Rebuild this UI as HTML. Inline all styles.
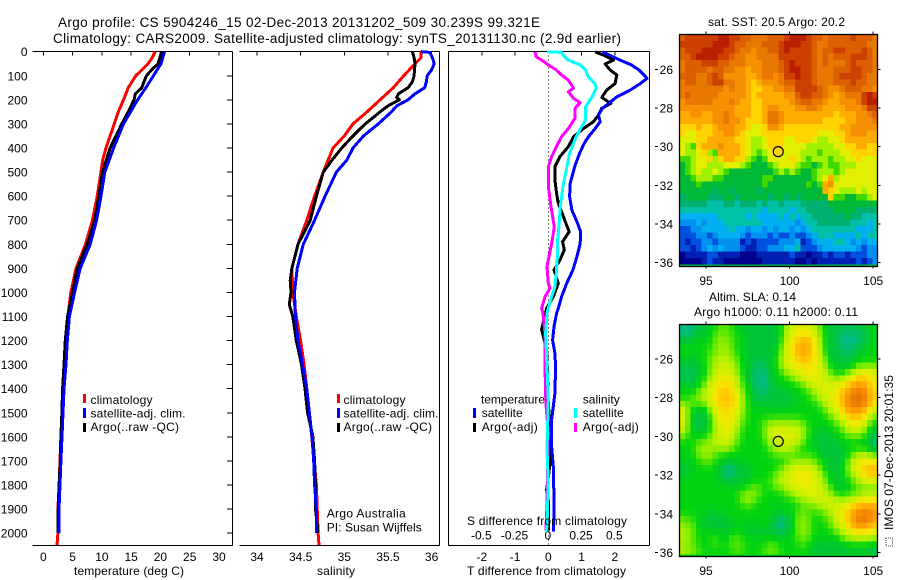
<!DOCTYPE html>
<html>
<head>
<meta charset="utf-8">
<title>Argo profile</title>
<style>
html,body{margin:0;padding:0;background:#fff;}
svg{display:block;}
text{font-family:"Liberation Sans",sans-serif;font-size:12px;fill:#000;}
.t{font-size:13.5px;}
</style>
</head>
<body>
<svg id="fig" xmlns="http://www.w3.org/2000/svg" width="900" height="580" viewBox="0 0 900 580">
  <text class="t" x="58" y="27" textLength="482">Argo profile: CS 5904246_15 02-Dec-2013 20131202_509 30.239S 99.321E</text>
  <text class="t" x="53" y="43" textLength="568">Climatology: CARS2009. Satellite-adjusted climatology: synTS_20131130.nc (2.9d earlier)</text>

  <g id="maps"></g>
  <g id="axes"></g>
  <g id="series"></g>

  <text x="74" y="575" textLength="110">temperature (deg C)</text>
  <text x="317" y="575" textLength="38">salinity</text>
  <text x="467" y="575" textLength="159">T difference from climatology</text>
  <text x="467" y="525" textLength="160">S difference from climatology</text>

  <g>
    <rect x="83" y="394" width="3" height="9" fill="#f00"/>
    <text x="90.5" y="404" textLength="62">climatology</text>
    <rect x="83" y="408" width="3" height="10" fill="#00f"/>
    <text x="90.5" y="417.5" textLength="95">satellite-adj. clim.</text>
    <rect x="83" y="423" width="3" height="9" fill="#000"/>
    <text x="90.5" y="431" textLength="88.5">Argo(..raw -QC)</text>
  </g>
  <g>
    <rect x="337" y="394" width="3" height="9" fill="#f00"/>
    <text x="343.5" y="404" textLength="62">climatology</text>
    <rect x="337" y="408" width="3" height="10" fill="#00f"/>
    <text x="343.5" y="417.5" textLength="95">satellite-adj. clim.</text>
    <rect x="337" y="423" width="3" height="9" fill="#000"/>
    <text x="343.5" y="431" textLength="88.5">Argo(..raw -QC)</text>
  </g>
  <text x="326.7" y="517.5" textLength="79">Argo Australia</text>
  <text x="326.7" y="531.5" textLength="95">PI: Susan Wijffels</text>

  <g>
    <text x="481" y="403.5" textLength="64">temperature</text>
    <text x="582.7" y="403.5" textLength="37">salinity</text>
    <rect x="473" y="408" width="3" height="10" fill="#00f"/>
    <text x="481.7" y="417" textLength="41">satellite</text>
    <rect x="473" y="423" width="3" height="9" fill="#000"/>
    <text x="481.7" y="431" textLength="56">Argo(-adj)</text>
    <rect x="574" y="408" width="3" height="10" fill="#00ffff"/>
    <text x="582.7" y="417" textLength="41">satellite</text>
    <rect x="574" y="423" width="3" height="9" fill="#ff00ff"/>
    <text x="582.7" y="431" textLength="56">Argo(-adj)</text>
  </g>

  <text x="708" y="26" textLength="137">sat. SST: 20.5 Argo: 20.2</text>
  <text x="709" y="301" textLength="87">Altim. SLA: 0.14</text>
  <text x="694" y="316" textLength="164">Argo h1000: 0.11 h2000: 0.11</text>

  <text transform="translate(893,530) rotate(-90)" x="0" y="0" textLength="155">IMOS 07-Dec-2013 20:01:35</text>
  <rect x="886" y="538" width="6.5" height="8" fill="none" stroke="#444" stroke-width="1" stroke-dasharray="1 1"/>
</svg>

<script>
// ---------- tick labels ----------
const depthTicks = [0,100,200,300,400,500,600,700,800,900,1000,1100,1200,1300,1400,1500,1600,1700,1800,1900,2000];
const tempTicks = [0,5,10,15,20,25,30];
const salTicks = ["34","34.5","35","35.5","36"];
const tDiffTicks = ["-2","-1","0","1","2"];
const sDiffTicks = ["-0.5","-0.25","0","0.25","0.5"];
const lonTicks = [95,100,105];
const latTicks = [26,28,30,32,34,36];

// ---------- temperature profiles (deg C) ----------
const tempClimDepth = [0,25,50,76,100,130,150,200,250,300,350,400,450,500,600,700,800,900,1000,1100,1200,1300,1400,1500,1600,1700,1800,1900,2000,2050];
const tempClimValue = [19.1,18.6,17.9,16.8,15.8,15.0,14.5,13.7,12.8,12.1,11.4,10.7,10.15,9.85,9.2,8.4,7.2,5.6,4.7,4.2,3.8,3.55,3.35,3.2,3.0,2.85,2.7,2.5,2.5,2.34];
const tempSatDepth = [0,50,100,150,200,300,400,500,600,700,800,900,1000,1100,1200,1300,1400,1500,1600,1700,1800,1900,2000];
const tempSatValue = [20.7,20.1,18.8,17.5,16.1,13.7,12,10.5,9.85,9.1,8,6.3,5.35,4.45,4.1,3.88,3.53,3.36,3.2,3.0,2.85,2.68,2.7];
const tempArgoDepth = [0,50,75,100,150,175,200,250,300,400,500,600,700,800,900,1000,1100,1200,1300,1400,1500,1600,1700,1800,1900,2000];
const tempArgoValue = [20.2,19.6,18.5,17.6,16.8,15.7,15.5,14.5,13.4,11.4,10.1,9.5,8.8,7.5,5.8,5.0,4.15,3.76,3.53,3.3,3.18,3.0,2.9,2.7,2.55,2.5];

// ---------- salinity profiles ----------
const salClimDepth = [0,25,50,100,150,200,250,300,350,400,500,600,700,800,900,1000,1100,1200,1300,1500,1800,1900,2000,2050];
const salClimValue = [35.88,35.88,35.81,35.68,35.56,35.41,35.26,35.1,35.0,34.87,34.76,34.66,34.57,34.47,34.40,34.41,34.45,34.5,34.54,34.6,34.68,34.69,34.7,34.71];
const salSatDepth = [0,3,10,25,50,75,100,125,150,175,200,225,250,300,350,400,450,500,600,700,800,900,1000,1100,1200,1300,1400,1500,1600,1700,1800,1900,2000];
const salSatValue = [35.88,35.98,35.99,36.01,36.03,36.0,35.95,35.94,35.92,35.81,35.73,35.6,35.54,35.39,35.22,35.1,35.03,34.91,34.78,34.66,34.53,34.46,34.43,34.44,34.47,34.52,34.57,34.6,34.63,34.65,34.66,34.68,34.68];
const salArgoDepth = [0,25,50,100,125,150,175,190,200,225,250,300,350,400,450,500,600,700,800,900,950,1000,1050,1100,1200,1300,1400,1500,1600,1700,1800,1900,2000];
const salArgoValue = [35.78,35.8,35.81,35.8,35.78,35.73,35.62,35.6,35.63,35.5,35.41,35.24,35.1,34.97,34.86,34.76,34.68,34.61,34.47,34.40,34.38,34.39,34.37,34.41,34.45,34.51,34.55,34.58,34.64,34.66,34.67,34.67,34.7];

// ---------- difference profiles ----------
const dTSatDepth = [1,35,55,76,97,111,132,159,187,215,235,263,291,319,353,381,422,471,505,547,602,658,706,748,796,852,907,963,1018,1066,1087,1142,1198,1253,1308,1419,1474,1530,1640,1723,1862,1994];
const dTSatValue = [1.63,2.16,2.5,2.73,2.88,2.97,2.77,2.47,2.07,1.81,1.63,1.51,1.56,1.41,1.21,1.08,0.94,0.81,0.74,0.66,0.64,0.71,0.86,0.97,0.96,0.86,0.74,0.55,0.40,0.30,0.25,0.17,0.13,0.20,0.22,0.20,0.15,0.10,0.10,0.15,0.17,0.16];
const dTArgoDepth = [1,14,35,51,76,97,132,159,190,215,235,263,291,319,353,395,436,478,533,589,630,672,713,748,789,824,866,907,963,1018,1066,1154,1239,1308,1447,1585,1696,1820,1860,1990];
const dTArgoValue = [1.41,1.66,1.96,1.71,1.86,2.06,2.01,1.76,1.61,1.88,1.61,1.51,1.36,1.06,0.76,0.6,0.35,0.2,0.2,0.25,0.3,0.42,0.53,0.63,0.43,0.48,0.35,0.17,0.3,0.15,-0.05,-0.2,-0.05,-0.03,0,0.05,0.07,-0.05,0,0];
const dSSatDepth = [1,3,14,35,55,76,104,132,152,187,229,284,312,353,422,505,561,644,727,782,838,921,976,1018,1066,1087,1170,1308,1447,1654,1792,1972,1994];
const dSSatValue = [-0.01,0.10,0.11,0.15,0.24,0.28,0.30,0.35,0.36,0.33,0.28,0.28,0.25,0.21,0.16,0.13,0.11,0.09,0.08,0.07,0.07,0.06,0.05,0.025,0,-0.01,-0.02,-0.01,0,-0.01,0,-0.01,-0.018];
const dSArgoDepth = [1,21,35,55,76,97,118,152,166,194,212,235,277,319,353,395,436,478,561,644,727,782,838,893,963,983,1018,1066,1087,1170,1308,1460,1585,1723,1860,1915,1990];
const dSArgoValue = [-0.10,-0.09,-0.05,0,0.06,0.10,0.15,0.19,0.15,0.19,0.24,0.20,0.20,0.15,0.10,0.06,0.025,0,0,0.02,0.045,0.03,0.01,-0.01,0,0.0125,-0.025,-0.05,-0.04,-0.025,-0.025,-0.018,0,-0.005,-0.008,-0.012,-0.018];

// ---------- SST map: colour level for each cell, row = latitude, column = longitude ----------
const sstGrid = [
[15,16,16,16,16,16,16,17,17,16,16,15,15,14,14,14,15,15,15,16,17,17,17,16,15,15,14,15,15,15,15,16,15,15,15,14],
[16,16,16,16,16,16,17,17,17,16,15,15,14,14,14,15,15,15,16,17,17,17,16,16,15,14,14,15,15,15,15,15,15,15,14,14],
[15,16,16,16,17,17,17,17,16,16,15,14,14,13,14,14,15,15,16,17,16,16,16,16,15,14,15,15,16,16,15,15,15,16,15,14],
[15,15,16,17,17,17,17,16,16,15,14,14,13,13,14,14,14,14,16,16,16,16,16,16,15,14,15,14,15,15,15,16,16,16,15,14],
[14,15,15,15,16,16,16,15,15,14,14,14,13,13,13,14,14,14,15,16,17,16,16,16,15,14,15,14,14,14,15,16,15,15,15,14],
[14,15,15,15,15,14,15,15,14,14,13,13,12,13,13,14,14,14,15,16,17,17,16,16,15,14,14,14,15,15,15,16,16,15,15,14],
[15,15,15,14,14,15,16,15,13,13,13,13,12,12,13,14,14,13,14,16,16,17,16,16,15,14,14,14,15,16,16,16,16,15,14,14],
[14,15,15,14,14,15,16,16,14,14,13,13,12,11,12,13,13,13,14,15,15,16,16,16,15,14,14,14,15,15,15,16,15,15,14,14],
[14,14,14,14,14,14,14,14,13,14,13,13,12,11,11,12,12,13,13,14,14,16,16,16,16,15,14,13,13,14,15,15,15,14,14,13],
[14,15,14,14,14,14,14,13,13,13,13,13,12,11,12,12,12,12,12,13,13,15,16,16,15,15,14,13,12,13,14,14,14,16,17,16],
[13,14,14,14,14,14,13,13,13,14,13,12,12,11,11,12,12,12,12,12,13,14,15,15,14,14,13,12,12,13,13,13,14,16,17,17],
[13,13,13,13,13,13,13,13,13,13,12,12,12,11,11,12,13,13,12,12,12,13,13,14,14,13,12,12,12,12,13,13,13,14,16,16],
[12,12,13,13,12,12,13,13,14,13,12,12,12,11,11,12,14,14,13,12,12,12,12,12,12,12,12,12,11,12,12,12,13,13,14,15],
[12,12,12,12,12,12,13,13,14,13,13,12,11,11,11,12,14,14,13,12,12,12,12,12,12,12,11,11,11,11,12,12,13,13,13,14],
[11,11,11,12,11,11,12,13,13,13,12,12,11,10,10,11,13,13,12,11,11,11,11,11,11,11,11,11,11,12,12,13,13,13,13,13],
[11,10,10,11,11,11,12,12,13,13,12,11,10,10,10,11,11,11,11,11,11,11,11,11,11,10,10,10,11,11,12,13,13,13,12,12],
[10,10,10,11,11,12,12,12,12,12,11,11,10,9,9,10,11,11,11,10,10,11,11,11,10,9,9,10,10,11,12,12,12,12,12,12],
[10,9,8,11,12,12,12,13,12,12,12,11,10,9,9,10,11,11,11,10,10,10,10,9,9,9,9,9,10,10,11,11,12,12,11,11],
[10,9,9,10,11,9,8,12,12,12,12,11,10,9,8,9,10,11,11,10,10,10,9,9,9,8,9,9,9,10,10,11,11,11,11,11],
[8,8,9,10,10,11,9,11,12,12,11,11,9,8,7,8,10,10,10,10,11,10,9,8,9,9,9,8,9,9,10,10,11,10,10,10],
[7,8,9,10,10,9,9,9,10,10,10,9,8,7,7,7,8,9,10,10,10,9,8,8,7,8,9,8,8,9,9,9,10,10,10,10],
[7,8,9,10,9,9,10,9,8,7,7,7,7,7,7,7,7,8,9,8,9,8,7,7,8,9,9,9,8,9,10,10,10,10,10,10],
[7,7,8,9,9,9,8,8,7,7,7,7,7,7,7,8,8,7,7,7,7,7,7,7,8,9,10,12,9,10,10,10,10,10,10,10],
[7,7,7,8,7,7,7,7,7,7,7,7,7,7,7,8,7,7,7,7,7,7,7,8,7,8,12,13,10,10,10,10,10,10,10,10],
[7,7,7,7,7,7,6,7,7,6,7,7,7,7,6,7,7,7,7,7,7,7,7,7,7,7,12,11,10,9,9,9,10,9,10,10],
[6,7,7,7,7,6,6,6,7,7,6,7,7,7,7,7,6,7,7,6,7,6,7,7,7,7,7,11,8,8,7,7,8,8,9,10],
[6,6,6,6,6,5,5,5,6,6,5,6,6,6,5,6,5,5,6,5,5,5,6,6,6,6,6,7,7,7,7,7,7,7,7,7],
[5,5,5,5,5,5,5,5,5,5,5,5,5,5,5,4,5,5,5,5,4,5,5,6,6,6,6,6,7,7,7,7,6,6,6,6],
[4,4,4,4,4,4,4,5,5,5,5,5,4,5,4,4,4,4,5,4,5,4,5,5,6,6,6,6,6,6,7,6,6,5,5,5],
[3,3,3,4,3,4,4,4,5,5,5,5,5,5,5,4,4,4,4,4,4,3,4,5,5,6,6,6,6,6,6,5,5,5,4,5],
[2,2,3,3,4,4,4,4,4,5,4,4,3,4,4,3,4,3,4,4,3,4,3,4,5,5,5,5,5,5,5,5,4,4,4,5],
[2,2,2,3,3,2,3,4,4,4,4,3,2,3,3,3,2,3,2,2,3,2,2,3,4,5,5,5,4,4,4,4,5,4,5,5],
[2,1,2,2,3,3,2,3,3,3,3,1,2,1,2,2,2,2,3,3,3,4,1,2,3,4,4,4,5,5,4,3,4,3,4,4],
[2,2,1,2,3,4,3,4,3,3,3,2,1,1,2,2,3,3,3,4,4,5,2,2,2,3,4,4,4,4,4,4,3,2,3,3],
[0,1,1,1,1,2,2,1,1,1,1,0,0,0,1,1,1,1,1,1,2,1,1,0,1,1,2,1,2,2,1,2,2,2,3,3],
[0,0,0,0,1,2,1,1,0,0,0,0,0,0,0,1,1,1,1,1,1,0,0,1,0,1,1,1,1,1,1,1,2,1,2,3]
];

// ---------- SLA map: colour level for each cell ----------
const slaGrid = [
[5,5,5,6,6,6,7,8,8,7,7,6,6,6,6,6,6,6,7,9,10,10,10,10,9,8,6,6,6,6,6,6,6,6,7,7],
[5,5,6,6,6,7,8,8,8,8,7,7,6,6,6,6,6,6,7,9,10,11,11,11,10,9,7,6,6,5,5,5,5,6,6,7],
[6,6,6,7,7,7,8,9,8,8,7,7,6,6,6,6,6,6,7,10,11,12,13,13,11,9,7,6,6,5,5,5,5,6,6,7],
[7,7,7,7,7,7,8,9,9,8,7,7,6,6,6,6,6,6,8,10,11,13,13,13,11,9,7,6,6,5,5,5,6,6,7,7],
[7,7,7,7,7,8,8,9,9,8,7,7,6,6,6,6,6,7,8,10,11,13,13,13,11,10,7,6,6,6,5,6,6,7,7,7],
[7,6,6,7,7,8,9,9,9,9,8,7,6,6,6,6,6,7,9,10,11,12,13,12,11,10,8,6,6,6,6,6,7,7,7,7],
[6,6,6,6,7,8,9,10,10,9,8,7,6,6,5,6,6,7,9,10,10,11,11,11,11,10,9,7,6,6,6,7,8,8,8,8],
[6,5,6,6,7,8,9,10,10,10,9,7,6,6,5,5,6,7,7,9,10,10,11,11,11,10,9,8,7,7,8,9,10,11,11,10],
[6,5,6,6,7,9,10,11,11,10,9,7,6,5,5,5,6,7,7,7,8,9,10,10,11,10,10,9,8,9,10,11,12,12,11,10],
[7,6,6,7,8,10,10,11,12,11,10,8,6,6,5,5,6,6,7,7,7,7,8,9,10,10,10,10,10,11,12,13,14,13,12,11],
[7,7,7,8,9,10,11,12,12,11,10,8,7,6,5,5,6,6,6,6,7,7,7,8,9,10,10,10,11,12,13,14,15,14,13,11],
[7,7,8,9,9,10,11,12,13,12,11,9,7,6,6,6,6,6,6,6,6,7,7,7,8,9,10,10,11,13,14,15,16,15,13,11],
[9,8,8,8,8,10,11,12,12,12,10,9,7,6,6,6,6,6,6,6,6,7,7,7,7,8,9,10,11,12,14,15,15,14,13,11],
[11,8,7,6,6,8,10,11,12,11,10,9,7,7,7,7,7,7,7,7,7,7,7,7,7,7,8,9,10,12,13,14,14,13,11,9],
[11,8,6,6,6,7,10,11,11,11,10,8,7,7,7,7,7,7,7,7,7,7,7,7,7,7,7,8,9,10,12,12,12,11,9,8],
[11,8,6,5,6,7,9,10,11,11,9,8,7,7,7,8,9,9,9,9,9,9,8,7,7,7,7,7,8,9,10,11,11,10,8,7],
[10,8,7,6,6,7,9,10,11,10,9,7,7,7,7,8,10,10,10,10,10,10,9,7,7,6,6,7,7,8,9,10,10,9,7,6],
[9,7,7,7,7,8,9,10,10,10,8,7,7,7,7,8,10,10,10,10,10,10,9,7,7,6,6,6,7,7,8,8,8,7,6,5],
[7,7,7,8,8,9,9,10,10,9,8,7,7,7,7,7,9,10,10,10,10,9,8,7,6,6,6,6,6,7,7,7,7,7,6,5],
[7,7,7,9,9,9,8,9,9,8,7,7,7,7,7,7,8,9,9,9,9,8,7,7,7,6,6,6,6,6,7,7,7,7,6,5],
[7,7,7,8,9,9,8,7,7,7,7,7,7,7,7,7,7,8,8,8,8,7,7,8,7,7,6,6,6,6,7,8,9,10,9,8],
[7,6,7,7,8,8,7,7,6,6,6,7,7,7,7,7,7,7,7,7,9,9,9,9,8,7,7,6,6,6,8,10,11,11,11,11],
[6,6,7,7,7,7,7,6,5,5,6,6,6,7,7,7,7,7,8,9,10,10,10,10,10,8,7,6,6,7,8,10,11,12,13,12],
[6,6,7,7,7,7,7,6,5,5,6,6,6,7,7,7,7,8,9,10,10,11,11,11,10,9,8,6,6,7,8,9,10,11,13,12],
[7,7,7,7,7,7,7,6,6,6,6,6,7,7,7,7,8,9,9,10,10,11,11,11,10,10,8,7,6,6,7,8,9,10,10,10],
[7,7,7,7,7,7,7,7,7,7,7,7,7,8,8,7,7,8,9,9,10,10,10,11,10,10,9,8,6,6,7,7,8,8,8,8],
[7,7,7,7,7,7,7,7,7,7,7,8,9,9,8,7,7,7,7,8,9,10,10,10,10,10,9,9,7,7,7,8,8,9,9,9],
[7,7,7,7,7,7,7,7,7,7,7,9,9,8,7,7,7,7,7,7,7,8,9,9,10,10,10,10,9,9,9,10,10,11,11,11],
[7,7,7,7,7,7,7,7,7,7,7,7,8,7,7,7,7,7,7,7,7,7,8,8,8,9,9,10,10,10,11,12,13,13,13,13],
[7,7,7,7,7,6,6,7,7,7,7,7,7,7,7,7,7,6,6,7,7,8,8,8,7,8,8,9,10,11,12,13,14,15,15,13],
[8,8,7,7,6,6,6,6,6,7,7,7,7,7,7,7,7,6,5,5,7,8,9,8,7,7,8,8,10,11,12,14,15,15,14,13],
[9,8,8,7,6,6,6,6,6,6,7,7,6,6,7,7,6,5,5,5,7,8,9,8,7,7,7,8,9,10,11,13,14,14,13,12],
[9,9,8,7,7,7,7,6,6,7,7,7,6,6,6,6,6,6,5,6,7,8,9,8,7,7,7,7,8,9,10,11,11,11,11,10],
[9,9,8,7,7,7,8,7,7,8,8,7,7,7,7,7,7,7,6,7,7,8,8,8,7,7,7,7,7,8,9,9,9,9,9,9],
[9,8,8,7,7,7,8,7,7,8,8,8,7,7,7,7,8,8,7,7,7,7,8,7,6,6,6,6,6,6,7,7,7,7,7,6],
[9,9,8,8,7,7,7,7,7,7,8,7,7,7,7,8,8,8,7,7,7,7,7,7,6,6,6,6,6,6,6,6,6,6,6,5]
];

// ---------- colour scales (level -> colour) ----------
const sstColors = ["#00008c","#0020b4","#0050e0","#0090f0","#00b0f0","#00c0a8","#00b070","#00b838","#40d800","#a0f000","#e0f000","#ffd400","#ffac00","#f69000","#e87800","#dc6000","#cc4000","#b82000"];
const slaColors = ["#00008c","#0020b4","#0050e0","#0090f0","#00b0f0","#00bc88","#00c438","#00d410","#60e800","#b0f000","#d8f000","#f4e800","#ffc800","#ffa800","#f68c00","#e87400","#d86000","#c04000"];

// ---------- axis functions ----------
const NS = "http://www.w3.org/2000/svg";
const yDepth = d => 51.7 + d * 0.2407;
const xTemp = v => 43.3 + v * 5.857;
const xSal = v => 257 + (v - 34) * 87.3;
const xDiffT = v => 548.3 + v * 33.25;
const xDiffS = v => 548.3 + v * 133;
const xLon = v => 706 + (v - 95) * 16.72;
const yLat1 = v => 69.4 + (v - 26) * 19.33;
const yLat2 = v => 359 + (v - 26) * 19.37;
const GRID_LON0 = 93.4, GRID_LAT0 = 24.2, GRID_STEP = 0.33;

const seriesG = document.getElementById("series");
const axesG = document.getElementById("axes");
const mapsG = document.getElementById("maps");

function mk(parent, tag, attrs, txt) {
  const e = document.createElementNS(NS, tag);
  for (const k in attrs) e.setAttribute(k, attrs[k]);
  if (txt !== undefined) e.textContent = txt;
  parent.appendChild(e);
  return e;
}

function rgb(hex) {
  return [parseInt(hex.slice(1, 3), 16), parseInt(hex.slice(3, 5), 16), parseInt(hex.slice(5, 7), 16)];
}
function colorAt(palette, v) {
  const c = Math.max(0, Math.min(palette.length - 1, v));
  const i = Math.min(palette.length - 2, Math.floor(c));
  const f = c - i;
  const a = rgb(palette[i]), b = rgb(palette[i + 1]);
  return "rgb(" + a.map((x, k) => Math.round(x + (b[k] - x) * f)).join(",") + ")";
}
// gaussian-like average of a cell and its neighbours (SLA field is smooth)
function smoothAt(grid, r, c) {
  let sum = 0, w = 0;
  for (let dr = -1; dr <= 1; dr++) {
    for (let dc = -1; dc <= 1; dc++) {
      const row = grid[r + dr];
      if (!row || row[c + dc] === undefined) continue;
      const k = (dr === 0 ? 2 : 1) * (dc === 0 ? 2 : 1);
      sum += row[c + dc] * k;
      w += k;
    }
  }
  return sum / w;
}

function profile(name, depths, values, xFn, color, width) {
  const pts = depths.map((d, i) => xFn(values[i]).toFixed(1) + "," + yDepth(d).toFixed(1)).join(" ");
  const el = mk(seriesG, "polyline", {points: pts, fill: "none", stroke: color, "stroke-width": width, "stroke-linejoin": "round", "shape-rendering": "crispEdges"});
  
  
}

function seg(x1, y1, x2, y2, extra) {
  const el = mk(axesG, "line", Object.assign({x1, y1, x2, y2, stroke: "#000", "stroke-width": 1, "shape-rendering": "crispEdges"}, extra || {}));
  
  
}

function label(x, y, s, anchor) {
  const el = mk(axesG, "text", {x, y, "text-anchor": anchor || "middle"}, s);
  
  
}

// ---------- heat maps ----------
function heat(name, grid, yFn, x0, y0, x1, y1, palette, valueFn) {
  const g = mk(mapsG, "g", {});
  
  
  mk(g, "rect", {x: x0, y: y0, width: x1 - x0, height: y1 - y0, fill: palette[7]});
  grid.forEach((row, r) => row.forEach((v, c) => {
    const cx = xLon(GRID_LON0 + c * GRID_STEP);
    const cy = yFn(GRID_LAT0 + r * GRID_STEP);
    const cw = Math.min(xLon(GRID_LON0 + (c + 1) * GRID_STEP), x1) - cx;
    const ch = Math.min(yFn(GRID_LAT0 + (r + 1) * GRID_STEP), y1) - cy;
    const cell = mk(g, "rect", {x: cx.toFixed(2), y: cy.toFixed(2), width: (cw + 0.4).toFixed(2), height: (ch + 0.4).toFixed(2), fill: colorAt(palette, valueFn(grid, r, c)), "shape-rendering": "crispEdges"});
    
    
  }));
}

const map1Box = [679.5, 34.5, 877.5, 266.5];
const map2Box = [679.5, 324.5, 877.5, 556.5];
heat("sst-heatmap", sstGrid, yLat1, map1Box[0], map1Box[1], map1Box[2], map1Box[3], sstColors, (g, r, c) => g[r][c]);
heat("sla-heatmap", slaGrid, yLat2, map2Box[0], map2Box[1], map2Box[2], map2Box[3], slaColors, smoothAt);

function mapFrame(box, yFn, labelY) {
  const [x0, y0, x1, y1] = box;
  const f = mk(axesG, "rect", {x: x0, y: y0, width: x1 - x0, height: y1 - y0, fill: "none", stroke: "#000", "stroke-width": 1.3});
  
  
  lonTicks.forEach(v => {
    const x = xLon(v);
    seg(x, y0 - 3, x, y0);
    seg(x, y1, x, y1 + 2);
    label(x, labelY, String(v));
  });
  latTicks.forEach(v => {
    const y = yFn(v);
    seg(655, y, 658, y);
    seg(x1, y, x1 + 3, y);
    label(673, y + 4.5, String(v), "end");
  });
}
mapFrame(map1Box, yLat1, 285);
mapFrame(map2Box, yLat2, 575);

// circles marking the profile position on the maps
const profileLon = 99.321, profileLat = 30.239;
[yLat1, yLat2].forEach((fn, i) => {
  const c = mk(mapsG, "circle", {cx: xLon(profileLon), cy: fn(profileLat) + 0.3, r: 5, fill: "none", stroke: "#000", "stroke-width": 1.2});
  
  
});

// ---------- profile panels ----------
const PANEL_TOP = 51.5, PANEL_BOTTOM = 545.5;

// temperature panel
seg(32.5, PANEL_TOP, 232.5, PANEL_TOP);
seg(32.5, PANEL_BOTTOM, 232.5, PANEL_BOTTOM);
seg(232.5, PANEL_TOP, 232.5, PANEL_BOTTOM);
depthTicks.forEach(d => {
  const y = yDepth(d);
  seg(227, y, 232.5, y);
  label(27.5, y + 4.5, String(d), "end");
});
tempTicks.forEach(v => {
  const x = xTemp(v);
  seg(x, PANEL_TOP, x, PANEL_TOP + 4);
  label(x, 561, String(v));
});

// salinity panel
seg(239.5, PANEL_TOP, 439.5, PANEL_TOP);
seg(239.5, PANEL_BOTTOM, 439.5, PANEL_BOTTOM);
seg(439.5, PANEL_TOP, 439.5, PANEL_BOTTOM);
salTicks.forEach(s => {
  const x = xSal(parseFloat(s));
  seg(x, PANEL_TOP, x, PANEL_TOP + 4);
  label(x, 561, s);
});

// difference panel
seg(448.5, PANEL_TOP, 649.5, PANEL_TOP);
seg(448.5, PANEL_BOTTOM, 649.5, PANEL_BOTTOM);
seg(448.5, PANEL_TOP, 448.5, PANEL_BOTTOM);
seg(649.5, PANEL_TOP, 649.5, PANEL_BOTTOM);
tDiffTicks.forEach(s => {
  const v = parseFloat(s);
  const x = xDiffT(v);
  if (v !== 0) seg(x, PANEL_TOP, x, PANEL_TOP + 4);
  label(x, 561, s);
});
sDiffTicks.forEach(s => {
  label(xDiffS(parseFloat(s)) - 0.5, 539.5, s);
});
const zero = mk(axesG, "line", {x1: xDiffT(0), y1: PANEL_TOP, x2: xDiffT(0), y2: PANEL_BOTTOM, stroke: "#000", "stroke-width": 1, "stroke-dasharray": "1 3", "shape-rendering": "crispEdges"});



// ---------- series ----------
profile("temperature-climatology-line", tempClimDepth, tempClimValue, xTemp, "#f00", 3);
profile("temperature-argo-line", tempArgoDepth, tempArgoValue, xTemp, "#000", 3);
profile("temperature-satellite-line", tempSatDepth, tempSatValue, xTemp, "#00f", 3);
profile("salinity-climatology-line", salClimDepth, salClimValue, xSal, "#f00", 3);
profile("salinity-argo-line", salArgoDepth, salArgoValue, xSal, "#000", 3);
profile("salinity-satellite-line", salSatDepth, salSatValue, xSal, "#00f", 3);
profile("t-difference-argo-line", dTArgoDepth, dTArgoValue, xDiffT, "#000", 3);
profile("t-difference-satellite-line", dTSatDepth, dTSatValue, xDiffT, "#00f", 3);
profile("s-difference-argo-line", dSArgoDepth, dSArgoValue, xDiffS, "#ff00ff", 3);
profile("s-difference-satellite-line", dSSatDepth, dSSatValue, xDiffS, "#00ffff", 3);
</script>
</body>
</html>
